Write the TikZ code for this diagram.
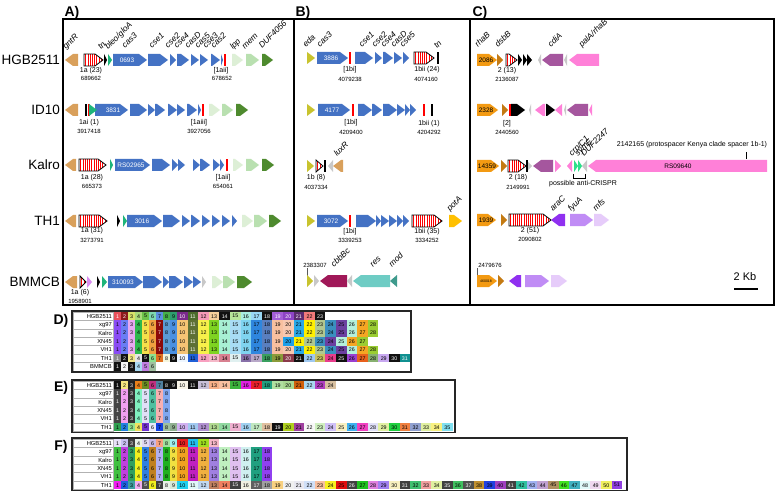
\documentclass[tikz,border=0pt]{standalone}
\usepackage{fontspec}
\setmainfont{Liberation Sans}
\definecolor{tanc}{HTML}{D9A05B}
\definecolor{casb}{HTML}{4472C4}
\definecolor{bleo}{HTML}{1DB57A}
\definecolor{lppc}{HTML}{DDEFD6}
\definecolor{memc}{HTML}{B9E0B0}
\definecolor{dufc}{HTML}{4E8A2E}
\definecolor{edac}{HTML}{C8C32E}
\definecolor{potc}{HTML}{FFC000}
\definecolor{maroonc}{HTML}{A01858}
\definecolor{tealc}{HTML}{6ECCC4}
\definecolor{modc}{HTML}{3E9A8C}
\definecolor{lgray}{HTML}{C8C8C8}
\definecolor{orng}{HTML}{F39A12}
\definecolor{brwn}{HTML}{C47A12}
\definecolor{mauve}{HTML}{A5569E}
\definecolor{pinkc}{HTML}{FF80D8}
\definecolor{purp}{HTML}{9030F0}
\definecolor{fyu}{HTML}{C08CF5}
\definecolor{mfsc}{HTML}{E6CCFA}
\definecolor{lavc}{HTML}{D98CF0}
\definecolor{grnc}{HTML}{2EE08A}
\definecolor{w}{HTML}{FFFFFF}
\definecolor{k}{HTML}{000000}
\tikzset{
 rowlab/.style={font=\fontsize{13.5}{14}\selectfont, anchor=east, inner sep=0},
 panlab/.style={font=\fontsize{14}{14}\selectfont\bfseries, inner sep=0},
 glab/.style={font=\fontsize{8.3}{8.3}\selectfont\itshape, rotate=45, anchor=base west, inner sep=0},
 crlab/.style={font=\fontsize{7}{7}\selectfont, inner sep=0},
 poslab/.style={font=\fontsize{6}{6}\selectfont, inner sep=0},
 intext/.style={font=\fontsize{6.5}{6.5}\selectfont, text=white, inner sep=0},
 inblack/.style={font=\fontsize{6.5}{6.5}\selectfont, text=black, inner sep=0},
 cellnum/.style={font=\fontsize{5.3}{5.3}\selectfont, inner sep=0},
 tlab/.style={font=\fontsize{5.8}{6}\selectfont, anchor=east, inner sep=0},
 panbox/.style={line width=1.2pt},
 tabbox/.style={line width=1.3pt, black!85},
}
\newcommand\geneR[4]{\pgfmathsetmacro\tipl{min(8,#2-#1)}\fill[#4] (#1,#3-6) -- ({#2-\tipl},#3-6) -- (#2,#3) -- ({#2-\tipl},#3+6) -- (#1,#3+6) -- cycle;}
\newcommand\geneL[4]{\pgfmathsetmacro\tipl{min(8,#2-#1)}\fill[#4] (#2,#3-6) -- ({#1+\tipl},#3-6) -- (#1,#3) -- ({#1+\tipl},#3+6) -- (#2,#3+6) -- cycle;}
\newcommand\redbar[2]{\fill[red] (#1-1,#2-6) rectangle (#1+1,#2+6);}
\newcommand\blkbar[2]{\fill[black] (#1-1,#2-6) rectangle (#1+1,#2+6);}
\newcommand\crarr[3]{%
 \pgfmathsetmacro\tipl{min(8,#2-#1)}%
 \begin{scope}
 \clip (#1,#3-6) -- ({#2-\tipl},#3-6) -- (#2,#3) -- ({#2-\tipl},#3+6) -- (#1,#3+6) -- cycle;
 \fill[white] (#1,#3-6) rectangle (#2,#3+6);
 \foreach \s in {1.4,3.6,...,44}{\fill[red] ({#1+\s},#3-6) rectangle ++(0.9,12);}
 \end{scope}
 \draw[line width=0.8pt] (#1,#3-6) -- ({#2-\tipl},#3-6) -- (#2,#3) -- ({#2-\tipl},#3+6) -- (#1,#3+6) -- cycle;}
\newcommand\tabrow[2]{%
 \foreach \hx/\tc [count=\ix] in #2 {%
  \pgfmathsetmacro\cxa{\ix<10 ? 114+(\ix-1)*7 : 177+(\ix-10)*10.6}%
  \pgfmathsetmacro\cwd{\ix<10 ? 7 : 10.6}%
  \definecolor{cellc}{HTML}{\hx}%
  \fill[cellc] (\cxa,#1-4.2) rectangle ++(\cwd,8.4);%
  \node[cellnum,text=\tc] at ({\cxa+\cwd/2},#1) {\ix};}}
\newcommand\tablab[2]{%
 \foreach \nm [count=\jx] in {#2}{%
  \pgfmathsetmacro\tyy{#1+(\jx-1)*8.4}%
  \draw[gray!60, line width=0.4pt] (73,\tyy) rectangle (113,\tyy+8.4);%
  \node[tlab] at (112,\tyy+4.2) {\nm};}}
\def\DHgb{E8505B/w,8B1A1A/w,D8E36A/k,A8DB7A/k,6CC24A/k,7ED9B0/k,5B8FE0/k,46B04A/k,2E9F6E/k,7A2A8C/w,4A6B2A/w,F59AB8/k,F5CF9B/k,111111/w,B6E69A/k,A8EDE0/k,9AD8F5/k,111111/w,A45ED8/w,8E44C6/w,5B2C70/w,F07A7A/k,111111/w}
\def\Dxg{8A4CF5/k,6A7DF5/k,E6A8F0/k,2DB84D/k,F5E04A/k,F0A040/k,8B0A0A/w,5B9BD5/k,4A90E2/k,F5C474/k,5E7035/w,F7F04A/k,7ED321/k,A8F0D4/k,A8DCF5/k,7FD4F0/k,2E86DE/k,5A7FBF/k,F8C0A0/k,F8C8B0/k,2AA8E8/k,FFF000/k,B0C890/k,3A8FBF/k,6B3FA0/k,B4F0DC/k,F5A623/k,9ACD32/k}
\def\Dxn{8A4CF5/k,6A7DF5/k,E6A8F0/k,2DB84D/k,F5E04A/k,F0A040/k,8B0A0A/w,5B9BD5/k,4A90E2/k,F5C474/k,5E7035/w,F7F04A/k,7ED321/k,A8F0D4/k,A8DCF5/k,7FD4F0/k,2E86DE/k,5A7FBF/k,F8C0A0/k,1E9FE8/k,FFF000/k,B0C890/k,3A8FBF/k,6B3FA0/k,B4F0DC/k,F5A623/k,9ACD32/k}
\def\Dth{8A8A8A/w,111111/w,F0E68C/k,E6E6E6/k,111111/w,8EE08E/k,E07020/k,F5F5DC/k,111111/w,EEF6FF/k,1F5FD6/k,F8A0C0/k,F5B8C8/k,D88090/k,E0F0F0/k,8870A8/k,B8A8C8/k,3A9F5F/k,8B9B3A/k,8B3A4A/w,111111/w,9FC8F0/k,C8C060/k,E83C8C/k,111111/w,9A3FD0/k,E8601C/k,88B070/k,C8A8F0/k,111111/w,109090/w}
\def\Dbm{111111/w,F4F4F4/k,111111/w,A8D8F0/k,C080E0/k,A0C0A0/k}
\def\EHgb{111111/w,F5E680/k,222222/w,E8801A/k,6B8E23/k,C03080/k,5080A0/k,111111/w,111111/w,F8F4E8/k,111111/w,C8C0D8/k,F8B088/k,F8C0A0/k,3CB43C/k,E020E0/k,E8202A/k,20A080/k,B0E0A0/k,A8D890/k,D0600A/k,A8D8F0/k,B040C0/k,D8C0A0/k}
\def\Exg{444444/w,F0A0F0/k,333333/w,80F0C0/k,E0E0F8/k,50C0A0/k,F8B0B0/k,80A8F0/k}
\def\Eth{30A050/k,2080E0/k,90E090/k,F0E060/k,7030D0/k,E8E8F8/k,1040E0/k,A0C0A0/k,90B090/k,D0B0F0/k,A0C8F0/k,B090D0/k,B0D890/k,90D8A0/k,F0B0D0/k,A0D0F0/k,C0E8C0/k,E0C0A0/k,111111/w,B0D020/k,A040A0/k,F8F8F8/k,D0F0C0/k,D0C0F8/k,F8F0C0/k,40B0F0/k,F040C0/k,E0E0F8/k,E0F0A0/k,20D040/k,F08040/k,90A0D0/k,E0F0A0/k,F8F080/k,80E0F0/k}
\def\FHgb{E8E0F8/k,C8C0F0/k,404040/w,E8F0E8/k,E0D8F0/k,C8B8E8/k,F8A080/k,A0E0A0/k,A0F0F0/k,E82020/k,20C0F0/k,A0E020/k,F8B8C8/k}
\def\Fxg{40C040/k,C040E0/k,30A060/k,F0F020/k,3080E0/k,C08020/k,B0B0F0/k,20B020/k,F0E040/k,F0A020/k,C020C0/k,F0B040/k,A080E0/k,C0F0C0/k,E0C0F0/k,D0F0F0/k,20A080/k,9040F0/k}
\def\Fth{F020F0/k,2060E0/k,40A0A0/k,F0B0F0/k,505050/w,F0F020/k,404040/w,E8F0E8/k,D8E8D8/k,20D0F0/k,E0F8F8/k,C0D8F0/k,C08060/k,F08060/k,404040/w,F0F0E0/k,606060/w,A0A0A0/k,F8D080/k,F0F0F0/k,E8E8F0/k,D0E0F8/k,F8C0A0/k,F8F020/k,E01010/k,404040/w,20C020/k,E080E0/k,A080F0/k,F8F0C0/k,404040/w,40C070/k,F0A0A0/k,E0F0A0/k,404040/w,40C060/k,505050/w,C09030/k,2040E0/k,A040C0/k,404040/w,30C0A0/k,A0B0F0/k,C0A0D0/k,B09060/k,40E020/k,40B0C0/k,E0F8F8/k,F0D8F0/k,F0F060/k,9040E0/k}
\begin{document}
\begin{tikzpicture}[x=1pt,y=-1pt]
\useasboundingbox (0,0) rectangle (777,492);
\fill[white] (0,0) rectangle (777,492);
% panel boxes and labels
\draw[panbox] (63,19) rectangle (294,305);
\draw[panbox] (294,19) rectangle (470,305);
\draw[panbox] (470,19) rectangle (774,305);
\node[panlab] (pA) at (72,13) {A)};
\node[panlab] (pB) at (303,13) {B)};
\node[panlab] (pC) at (480,13) {C)};
\node[panlab] (pD) at (61,321) {D)};
\node[panlab] (pE) at (61,388) {E)};
\node[panlab] (pF) at (61,447) {F)};
\node[rowlab] (rH) at (60,60) {HGB2511};
\node[rowlab] (rI) at (60,110) {ID10};
\node[rowlab] (rK) at (60,165) {Kalro};
\node[rowlab] (rT) at (60,221) {TH1};
\node[rowlab] (rB) at (60,282) {BMMCB};
% ===== Panel A =====
% HGB2511
\geneL{65}{78}{60}{tanc}
\crarr{84}{103}{60}
\geneR{104}{107}{60}{black}
\geneR{108}{112}{60}{bleo}
\geneR{113}{147}{60}{casb}
\node[intext] (a1) at (127,60) {0693};
\geneR{148}{168}{60}{casb}
\geneR{170}{176}{60}{casb}
\geneR{177}{189}{60}{casb}
\geneR{191}{199}{60}{casb}
\geneR{200}{208}{60}{casb}
\geneR{211}{220}{60}{casb}
\geneR{221}{223}{60}{casb}
\redbar{225}{60}
\geneR{232}{243}{60}{lppc}
\geneR{246}{259}{60}{memc}
\geneR{262}{273}{60}{dufc}
\node[glab] (g1) at (66,50) {gntR};
\node[glab] (g2) at (101,50) {tn};
\node[glab] (g3) at (108,50) {bleo/gloA};
\node[glab] (g4) at (125,49) {cas3};
\node[glab] (g5) at (152,49) {cse1};
\node[glab] (g6) at (168,49) {cse2};
\node[glab] (g7) at (177,49) {cse4};
\node[glab] (g8) at (188,49) {casD};
\node[glab] (g9) at (198,49) {cas5};
\node[glab] (g10) at (206,49) {cse3};
\node[glab] (g11) at (214,49) {cas2};
\node[glab] (g12) at (233,50) {lpp};
\node[glab] (g13) at (245,50) {mem};
\node[glab] (g14) at (262,49) {DUF4056};
\node[crlab] (c1) at (91,71) {1a (23)};
\node[poslab] (q1) at (91,78.5) {689662};
\node[crlab] (c2) at (221,71) {[1aii]};
\node[poslab] (q2) at (222,78.5) {678652};
% ID10
\geneL{65}{78}{110}{tanc}
\blkbar{86}{110}
\redbar{88.5}{110}
\geneR{95}{128}{110}{casb}
\geneR{89}{97}{110}{bleo}
\node[intext] (a2) at (113,110) {3831};
\geneR{130}{147}{110}{casb}
\geneR{148}{155}{110}{casb}
\geneR{155}{165}{110}{casb}
\geneR{168}{177}{110}{casb}
\geneR{177}{185}{110}{casb}
\geneR{187}{197}{110}{casb}
\geneR{198}{201}{110}{casb}
\redbar{203}{110}
\geneR{209}{220}{110}{lppc}
\geneR{222}{233}{110}{memc}
\geneR{236}{248}{110}{dufc}
\node[crlab] (c3) at (89,123) {1ai (1)};
\node[poslab] (q3) at (89,131) {3917418};
\node[crlab] (c4) at (199,123) {[1aiii]};
\node[poslab] (q4) at (199,131) {3927056};
% Kalro
\geneL{65}{76}{165}{tanc}
\crarr{79}{106}{165}
\geneR{110}{113}{165}{bleo}
\geneR{115}{150}{165}{casb}
\node[intext] (a3) at (131,165) {RS02965};
\geneR{152}{170}{165}{casb}
\geneR{172}{178}{165}{casb}
\geneR{178}{185}{165}{casb}
\geneR{193}{200}{165}{casb}
\geneR{200}{210}{165}{casb}
\geneR{213}{220}{165}{casb}
\geneR{220}{224}{165}{casb}
\redbar{227}{165}
\geneR{233}{243}{165}{lppc}
\geneR{246}{259}{165}{memc}
\geneR{262}{274}{165}{dufc}
\node[crlab] (c5) at (92,178) {1a (28)};
\node[poslab] (q5) at (92,186) {665373};
\node[crlab] (c6) at (223,178) {[1aii]};
\node[poslab] (q6) at (223,186) {654061};
% TH1
\geneL{65}{76}{221}{tanc}
\crarr{79}{107}{221}
\geneR{117}{120}{221}{black}
\geneR{123}{127}{221}{bleo}
\geneR{127}{162}{221}{casb}
\node[intext] (a4) at (142,221) {3016};
\geneR{163}{180}{221}{casb}
\geneR{182}{190}{221}{casb}
\geneR{191}{200}{221}{casb}
\geneR{202}{210}{221}{casb}
\geneR{212}{220}{221}{casb}
\geneR{222}{230}{221}{casb}
\geneR{232}{237}{221}{casb}
\geneR{242}{253}{221}{lppc}
\geneR{254}{267}{221}{memc}
\geneR{269}{281}{221}{dufc}
\node[crlab] (c7) at (92,231) {1a (31)};
\node[poslab] (q7) at (92,240) {3273791};
% BMMCB
\geneL{65}{77}{282}{tanc}
\crarr{80}{86}{282}
\geneR{87}{92}{282}{lavc}
\geneR{97}{100}{282}{black}
\geneR{102}{107}{282}{bleo}
\geneR{108}{143}{282}{casb}
\node[intext] (a5) at (123,282) {310093};
\geneR{143}{162}{282}{casb}
\geneR{163}{169}{282}{casb}
\geneR{169}{183}{282}{casb}
\geneR{184}{193}{282}{casb}
\geneR{193}{201}{282}{casb}
\geneR{202}{206}{282}{lgray}
\geneR{212}{223}{282}{lppc}
\geneR{223}{235}{282}{memc}
\geneR{237}{252}{282}{dufc}
\node[crlab] (c8) at (80,293) {1a (6)};
\node[poslab] (q8) at (80,301) {1958901};
% ===== Panel B =====
% row 1
\geneR{307}{315}{58}{edac}
\geneR{317}{348}{58}{casb}
\node[intext] (b1) at (331,58) {3886};
\redbar{350}{58}
\geneR{355}{373}{58}{casb}
\geneR{375}{382}{58}{casb}
\geneR{383}{393}{58}{casb}
\geneR{394}{402}{58}{casb}
\geneR{403}{409}{58}{casb}
\crarr{414}{434}{58}
\blkbar{438}{58}
\node[glab] (h1) at (306,48) {eda};
\node[glab] (h2) at (320,48) {cas3};
\node[glab] (h3) at (362,48) {cse1};
\node[glab] (h4) at (375,48) {cse2};
\node[glab] (h5) at (384,48) {cse4};
\node[glab] (h6) at (394,48) {casD};
\node[glab] (h7) at (403,48) {cse5};
\node[glab] (h8) at (437,49) {tn};
\node[crlab] (d1) at (350,70) {[1bi]};
\node[poslab] (e1) at (350,79) {4079238};
\node[crlab] (d2) at (427,70) {1bii (24)};
\node[poslab] (e2) at (426,79) {4074160};
% row 2
\geneR{307}{315}{110}{edac}
\geneR{318}{350}{110}{casb}
\node[intext] (b2) at (332,110) {4177};
\redbar{353}{110}
\geneR{358}{372}{110}{casb}
\geneR{372}{382}{110}{casb}
\geneR{383}{397}{110}{casb}
\geneR{397}{405}{110}{casb}
\geneR{405}{410}{110}{casb}
\geneR{410}{416}{110}{casb}
\redbar{424}{110}
\blkbar{432}{110}
\node[crlab] (d3) at (351,123) {[1bi]};
\node[poslab] (e3) at (351,132) {4209400};
\node[crlab] (d4) at (429,124) {1bii (1)};
\node[poslab] (e4) at (429,132) {4204292};
% row 3
\geneR{307}{314}{166}{edac}
\crarr{316}{323}{166}
\blkbar{325}{166}
\geneL{328}{333}{166}{lgray}
\geneL{333}{343}{166}{tanc}
\node[glab] (h9) at (337,157) {luxR};
\node[crlab] (d5) at (316,178) {1b (8)};
\node[poslab] (e5) at (316,187) {4037334};
% row 4
\geneR{307}{315}{221}{edac}
\geneR{317}{348}{221}{casb}
\node[intext] (b3) at (331,221) {3072};
\redbar{350}{221}
\geneR{356}{376}{221}{casb}
\geneR{376}{381}{221}{casb}
\geneR{381}{389}{221}{casb}
\geneR{389}{397}{221}{casb}
\geneR{397}{403}{221}{casb}
\geneR{403}{409}{221}{casb}
\crarr{412}{442}{221}
\geneR{449}{462}{221}{potc}
\node[glab] (h10) at (450,212) {potA};
\node[crlab] (d6) at (350,232) {[1bi]};
\node[poslab] (e6) at (350,240) {3339253};
\node[crlab] (d7) at (427,232) {1bii (35)};
\node[poslab] (e7) at (427,240) {3334252};
% row 5
\coordinate (t1a) at (307,268);
\coordinate (t1b) at (307,276);
\draw[gray!70!black, line width=0.6pt] (t1a) -- (t1b);
\node[poslab] (e8) at (315,265.5) {2383307};
\geneR{307}{313}{281}{edac}
\geneR{314}{319}{281}{lgray}
\geneL{320}{347}{281}{maroonc}
\geneL{347}{352}{281}{lgray}
\geneL{353}{390}{281}{tealc}
\geneL{390}{397}{281}{modc}
\node[glab] (h11) at (334,268) {cbbBc};
\node[glab] (h12) at (373,268) {res};
\node[glab] (h13) at (392,268) {mod};
% ===== Panel C =====
% row 1
\geneR{477}{497}{60}{orng}
\node[inblack] (k1) at (486,60) {2086};
\geneR{497}{503}{60}{brwn}
\crarr{506}{517}{60}
\geneR{518}{522}{60}{black}
\geneR{523}{527}{60}{black}
\geneR{527}{532}{60}{black}
\geneL{538}{541}{60}{lgray}
\geneL{542}{563}{60}{mauve}
\geneL{564}{567}{60}{lgray}
\geneL{569}{599}{60}{pinkc}
\node[glab] (m1) at (478,48) {rhaB};
\node[glab] (m2) at (498,48) {dsbB};
\node[glab] (m3) at (551,48) {cdiA};
\node[glab] (m4) at (582,48) {palA/rhaB};
\node[crlab] (n1) at (507,71) {2 (13)};
\node[poslab] (o1) at (507,79) {2136087};
% row 2
\geneR{477}{498}{110}{orng}
\node[inblack] (k2) at (486,110) {2328};
\geneR{502}{508}{110}{brwn}
\redbar{510}{110}
\geneR{511}{525}{110}{black}
\geneL{529}{531}{110}{lgray}
\geneL{535}{545}{110}{pinkc}
\geneR{546}{555}{110}{black}
\geneL{555}{562}{110}{pinkc}
\geneL{564}{566}{110}{lgray}
\geneL{567}{588}{110}{mauve}
\geneL{589}{592}{110}{pinkc}
\node[crlab] (n2) at (507,124) {[2]};
\node[poslab] (o2) at (507,132) {2440560};
% row 3
\geneR{477}{499}{166}{orng}
\node[inblack] (k3) at (487,166) {14359};
\geneR{501}{507}{166}{brwn}
\crarr{508}{526}{166}
\geneR{526}{532}{166}{lgray}
\blkbar{527}{166}
\geneL{533}{553}{166}{mauve}
\geneR{555}{561}{166}{pinkc}
\geneL{567}{572}{166}{pinkc}
\geneR{574}{578}{166}{grnc}
\geneR{578}{582}{166}{grnc}
\geneL{582}{587}{166}{lgray}
\geneL{588}{767}{166}{pinkc}
\node[inblack] (k4) at (678,166) {RS09640};
\node[glab] (m5) at (572,157) {crp/C1};
\node[glab] (m6) at (578,157) {symE};
\node[glab] (m7) at (584,157) {DUF2247};
\coordinate (ps1) at (746,152);
\coordinate (ps2) at (746,159);
\draw[line width=0.6pt] (ps1) -- (ps2);
\node[crlab] (ps) at (692,145) {2142165 (protospacer Kenya clade spacer 1b-1)};
\coordinate (br1) at (573,174);
\coordinate (br2) at (585,174);
\draw[line width=0.7pt] (br1) -- ++(0,4) -| (br2);
\node[crlab] (acr) at (583,184) {possible anti-CRISPR};
\node[crlab] (n3) at (518,178) {2 (18)};
\node[poslab] (o3) at (518,187) {2149991};
% row 4
\geneR{477}{496}{220}{orng}
\node[inblack] (k5) at (486,220) {1939};
\geneR{501}{507}{220}{brwn}
\crarr{509}{551}{220}
\geneL{551}{565}{220}{purp}
\geneR{570}{593}{220}{fyu}
\geneR{594}{609}{220}{mfsc}
\node[glab] (m8) at (553,212) {araC};
\node[glab] (m9) at (571,212) {fyuA};
\node[glab] (m10) at (596,212) {mfs};
\node[crlab] (n4) at (530,231) {2 (51)};
\node[poslab] (o4) at (530,239) {2090802};
% row 5
\coordinate (t2a) at (477,268);
\coordinate (t2b) at (477,276);
\draw[gray!70!black, line width=0.6pt] (t2a) -- (t2b);
\node[poslab] (o5) at (490,265.5) {2479676};
\geneR{477}{497}{281}{orng}
\node[font=\fontsize{3.5}{3.5}\selectfont, inner sep=0] (k6) at (486,281) {460018};
\geneR{498}{504}{281}{brwn}
\geneL{509}{521}{281}{purp}
\geneR{525}{549}{281}{fyu}
\geneR{551}{567}{281}{mfsc}
\node[font=\fontsize{11}{11}\selectfont, inner sep=0] (kb) at (745,277) {2 Kb};
\coordinate (sb1) at (734,289);
\coordinate (sb2) at (758,289);
\draw[line width=1.5pt] (sb1) -- (sb2);
% ===== Table D =====
\tablab{312}{HGB2511,xg97,Kalro,XN45,VH1,TH1,BMMCB}
\tabrow{316.2}{\DHgb}
\tabrow{324.6}{\Dxg}
\tabrow{333}{\Dxg}
\tabrow{341.4}{\Dxn}
\tabrow{349.8}{\Dxg}
\tabrow{358.2}{\Dth}
\tabrow{366.6}{\Dbm}
\draw[tabbox] (72,311) rectangle (411,372);
% ===== Table E =====
\tablab{381}{HGB2511,xg97,Kalro,XN45,VH1,TH1}
\tabrow{385.2}{\EHgb}
\tabrow{393.6}{\Exg}
\tabrow{402}{\Exg}
\tabrow{410.4}{\Exg}
\tabrow{418.8}{\Exg}
\tabrow{427.2}{\Eth}
\draw[tabbox] (72,380) rectangle (455,432.5);
% ===== Table F =====
\tablab{439}{HGB2511,xg97,Kalro,XN45,VH1,TH1}
\tabrow{443.2}{\FHgb}
\tabrow{451.6}{\Fxg}
\tabrow{460}{\Fxg}
\tabrow{468.4}{\Fxg}
\tabrow{476.8}{\Fxg}
\tabrow{485.2}{\Fth}
\draw[tabbox] (72,438) rectangle (627,490.5);
\end{tikzpicture}
\end{document}
